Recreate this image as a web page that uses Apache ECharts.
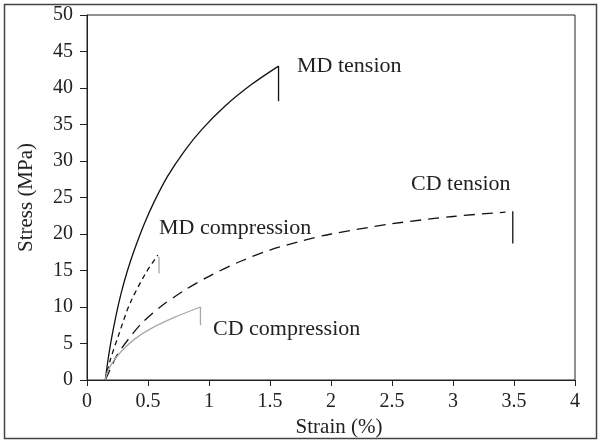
<!DOCTYPE html>
<html lang="en">
<head>
    <meta charset="UTF-8">
    <title>Stress-strain</title>
    <script src="https://cdn.jsdelivr.net/npm/echarts/dist/echarts.min.js"></script>
    <style>
        html, body { margin: 0; padding: 0; background: #fff; }
    </style>
</head>
<body>
<div id="main" style="height:441px;width:599px"></div>

<script type="text/javascript">
    // strain (%), stress (MPa)
    var mdTension = [[0.15, 0], [0.17, 2.5], [0.2, 5.6], [0.24, 9.0], [0.28, 11.9], [0.33, 14.9],
        [0.39, 17.9], [0.47, 21.4], [0.55, 24.4], [0.66, 27.9], [0.8, 31.4], [0.94, 34.3],
        [1.13, 37.5], [1.35, 40.5], [1.57, 43]];
    var mdTensionDrop = [[1.57, 43], [1.57, 38.2]];

    var cdTension = [[0.15, 0], [0.2, 1.8], [0.25, 3.5], [0.34, 5.6], [0.45, 7.8], [0.6, 10.0],
        [0.8, 12.3], [1.0, 14.2], [1.25, 16.2], [1.5, 17.8], [1.75, 19.0], [2.0, 20.0],
        [2.5, 21.4], [3.0, 22.4], [3.43, 23.0]];
    var cdTensionDrop = [[3.49, 23.1], [3.49, 18.7]];

    var mdCompression = [[0.15, 0], [0.19, 2.7], [0.26, 6.2], [0.35, 10.4], [0.48, 14.6], [0.58, 17.1]];
    var mdCompressionDrop = [[0.59, 16.9], [0.59, 14.6]];

    var cdCompression = [[0.15, 0], [0.17, 1.2], [0.21, 2.4], [0.28, 3.9], [0.39, 5.6], [0.52, 7.0],
        [0.72, 8.6], [0.93, 10]];
    var cdCompressionDrop = [[0.93, 10], [0.93, 7.5]];

    var xTicks = [0, 0.5, 1, 1.5, 2, 2.5, 3, 3.5, 4];
    var yTicks = [0, 5, 10, 15, 20, 25, 30, 35, 40, 45, 50];

    var serif = '"Liberation Serif", "DejaVu Serif", serif';
    var ink = '#111';
    var grey = '#a8a8a8';

    function curve(data, color, type) {
        return {
            type: 'line',
            data: data,
            showSymbol: false,
            smooth: 0.3,
            lineStyle: { color: color, width: 1.3, type: type || 'solid' }
        };
    }

    var myChart = echarts.init(document.getElementById('main'));
    myChart.setOption({
        animation: false,
        grid: {
            left: 87, right: 24, top: 15, bottom: 61,
            outerBoundsMode: 'none',
            show: true, borderColor: '#222', borderWidth: 1
        },
        xAxis: {
            type: 'value',
            min: xTicks[0], max: xTicks[xTicks.length - 1], interval: 0.5,
            name: 'Strain (%)', nameLocation: 'middle', nameGap: 36,
            nameTextStyle: { fontFamily: serif, fontSize: 21, color: '#222', padding: [0, 0, 0, 16] },
            axisLine: { lineStyle: { color: '#222', width: 1 } },
            axisTick: { show: true, length: 6, lineStyle: { color: '#222' } },
            axisLabel: { fontFamily: serif, fontSize: 20, color: '#222', margin: 12 },
            splitLine: { show: false }
        },
        yAxis: {
            type: 'value',
            min: yTicks[0], max: yTicks[yTicks.length - 1], interval: 5,
            name: 'Stress (MPa)', nameLocation: 'middle', nameGap: 50,
            nameTextStyle: { fontFamily: serif, fontSize: 21, color: '#222' },
            axisLine: { show: true, lineStyle: { color: '#222', width: 1 } },
            axisTick: { show: true, length: 7, lineStyle: { color: '#222' } },
            axisLabel: { fontFamily: serif, fontSize: 20, color: '#222', margin: 14 },
            splitLine: { show: false }
        },
        series: [
            curve(mdTension, ink),
            curve(mdTensionDrop, ink),
            curve(cdTension, ink, [11, 7]),
            curve(cdTensionDrop, ink),
            curve(mdCompression, ink, [5, 4]),
            curve(mdCompressionDrop, grey),
            curve(cdCompression, grey),
            curve(cdCompressionDrop, grey)
        ],
        graphic: [
            {
                type: 'rect', silent: true,
                shape: { x: 4.5, y: 4.5, width: 592, height: 434 },
                style: { fill: 'none', stroke: '#444', lineWidth: 1.5 }
            },
            { type: 'text', left: 297, top: 55, style: { text: 'MD tension', font: '22px ' + serif, fill: '#222' } },
            { type: 'text', left: 411, top: 173, style: { text: 'CD tension', font: '22px ' + serif, fill: '#222' } },
            { type: 'text', left: 159, top: 217, style: { text: 'MD compression', font: '22px ' + serif, fill: '#222' } },
            { type: 'text', left: 213, top: 318, style: { text: 'CD compression', font: '22px ' + serif, fill: '#222' } }
        ]
    });
</script>
</body>
</html>
